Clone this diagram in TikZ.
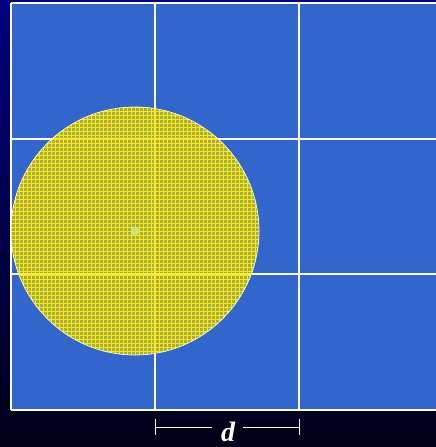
\documentclass[tikz,border=0pt]{standalone}
\usepackage{fontspec}
\newfontfamily\dimfont{Liberation Serif}
\usepackage{tikz}
\begin{document}
\begin{tikzpicture}[x=1pt,y=-1pt,
  gridline/.style={draw=white,line width=2.4pt},
  dimline/.style={draw=white,line width=0.8pt}]
\definecolor{bgtop}{RGB}{0,0,128}
\definecolor{bgbot}{RGB}{0,0,24}
\definecolor{cellblue}{RGB}{51,102,204}
\definecolor{disc}{RGB}{240,220,0}
\definecolor{mesh}{RGB}{255,235,0}
\definecolor{dotc}{RGB}{200,230,120}
\useasboundingbox (0,0) rectangle (436,447);
\shade[top color=bgtop,bottom color=bgbot] (0,0) rectangle (436,447);
% blue grid
\fill[cellblue] (11,3) rectangle (440,410);
\draw[gridline] (11,3) -- (440,3);
\draw[gridline] (11,139) -- (440,139);
\draw[gridline] (11,274) -- (440,274);
\draw[gridline] (11,410) -- (440,410);
\draw[gridline] (11,3) -- (11,410);
\draw[gridline] (155,3) -- (155,410);
\draw[gridline] (299,3) -- (299,410);
% disc
\coordinate (c) at (135,231);
\fill[disc,fill opacity=0.6] (c) circle (124);
\begin{scope}
  \clip (c) circle (124);
  \foreach \i in {0,4,...,252} {
    \draw[mesh,line width=0.5pt] (11+\i,100) -- (11+\i,360);
    \draw[mesh,line width=0.5pt] (5,107+\i) -- (265,107+\i);
  }
\end{scope}
\draw[white!80!yellow,line width=0.7pt] (c) circle (124);
\fill[dotc] (c) circle (4.5);
% dimension
\coordinate (l) at (155,427);
\coordinate (r) at (299,427);
\node[text=white,font=\dimfont\bfseries\itshape\fontsize{28}{28}\selectfont,inner sep=0pt,anchor=base] (d) at (228,441) {d};
\draw[dimline] (155,419) -- (155,435);
\draw[dimline] (299,419) -- (299,435);
\draw[dimline] (l) -- (212,427);
\draw[dimline] (243,427) -- (r);
\end{tikzpicture}
\end{document}
